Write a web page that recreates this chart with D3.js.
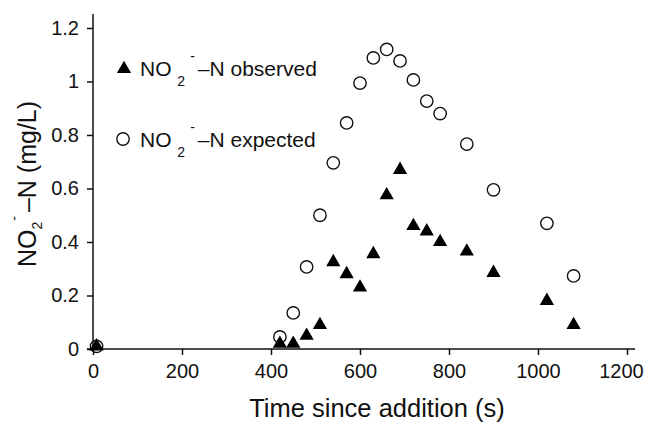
<!DOCTYPE html>
<html>
<head>
<meta charset="utf-8">
<script src="https://cdn.jsdelivr.net/npm/d3@7"></script>
<style>
  body { margin: 0; background: #fff; }
  text { font-family: "Liberation Sans", Arial, sans-serif; fill: #111; }
</style>
</head>
<body>
<svg id="chart" width="647" height="423"></svg>
<script>
// Data
const times = [8, 420, 450, 480, 510, 540, 570, 600, 630, 660, 690, 720, 750, 780, 840, 900, 1020, 1080];
const observed = [0.01, 0.02, 0.02, 0.05, 0.09, 0.325, 0.28, 0.23, 0.355, 0.575, 0.67, 0.46, 0.44, 0.40, 0.365, 0.285, 0.18, 0.09];
const expected = [0.01, 0.045, 0.135, 0.307, 0.50, 0.696, 0.845, 0.994, 1.088, 1.12, 1.077, 1.006, 0.927, 0.88, 0.766, 0.595, 0.47, 0.273];
const xTicks = [0, 200, 400, 600, 800, 1000, 1200];
const yTicks = [0, 0.2, 0.4, 0.6, 0.8, 1, 1.2];

const svg = d3.select('#chart');

// Scales (plot area runs from x=93 to 627, y=349 to 28)
const xScale = d3.scaleLinear().domain([0, 1200]).range([93, 627]);
const yScale = d3.scaleLinear().domain([0, 1.2]).range([349, 28]);

// Axes
const xAxis = svg.append('g')
  .attr('transform', `translate(0,${yScale(0)})`)
  .call(d3.axisBottom(xScale).tickValues(xTicks).tickSize(6).tickPadding(9).tickSizeOuter(0)
    .tickFormat(d3.format('d')));
xAxis.select('.domain').attr('d', `M${xScale(0) - 6},0H635`);
// last label sits a little left of its tick so it stays inside the picture
xAxis.selectAll('.tick text').filter(d => d === 1200).attr('dx', -6);

const yAxis = svg.append('g')
  .attr('transform', `translate(${xScale(0)},0)`)
  .call(d3.axisLeft(yScale).tickValues(yTicks).tickSize(6).tickPadding(8).tickSizeOuter(0)
    .tickFormat(d3.format('~g')));
yAxis.select('.domain').attr('d', `M0,14V${yScale(0)}`);

svg.selectAll('.tick text')
  .style('font-size', '20px')
  .style('font-family', '"Liberation Sans", Arial, sans-serif')
  .attr('fill', '#111');
svg.selectAll('.domain, .tick line').attr('stroke', '#111').attr('stroke-width', 1.5);

// Markers
const triangle = d3.symbol().type(d3.symbolTriangle).size(88);
const pts = times.map((t, i) => ({ t, o: observed[i], e: expected[i] }));

svg.append('g').selectAll('circle')
  .data(pts)
  .join('circle')
  .attr('cx', d => xScale(d.t))
  .attr('cy', d => yScale(d.e))
  .attr('r', 6.2)
  .attr('fill', 'none')
  .attr('stroke', '#111')
  .attr('stroke-width', 1.4);

svg.append('g').selectAll('path')
  .data(pts)
  .join('path')
  .attr('d', triangle)
  .attr('transform', d => `translate(${xScale(d.t)},${yScale(d.o)})`)
  .attr('fill', '#000');

// Legend
function no2Label(sel, rest) {
  sel.append('tspan').text('NO ');
  sel.append('tspan').attr('dy', 10).style('font-size', '14px').text('2');
  sel.append('tspan').attr('dy', -25).attr('dx', 5).style('font-size', '14px').text('-');
  sel.append('tspan').attr('dy', 15).attr('dx', 3).text('–N ' + rest);
}

const legend = svg.append('g');
legend.append('path')
  .attr('d', triangle)
  .attr('transform', 'translate(124,69)')
  .attr('fill', '#000');
legend.append('text')
  .attr('x', 140).attr('y', 76)
  .style('font-size', '21px')
  .call(no2Label, 'observed');

legend.append('circle')
  .attr('cx', 123).attr('cy', 139).attr('r', 6.2)
  .attr('fill', 'none').attr('stroke', '#111').attr('stroke-width', 1.4);
legend.append('text')
  .attr('x', 140).attr('y', 147)
  .style('font-size', '21px')
  .call(no2Label, 'expected');

// Axis titles
svg.append('text')
  .attr('x', 377).attr('y', 417)
  .attr('text-anchor', 'middle')
  .style('font-size', '25.5px')
  .text('Time since addition (s)');

const yTitle = svg.append('text')
  .attr('transform', 'translate(36,184) rotate(-90)')
  .attr('text-anchor', 'middle')
  .style('font-size', '25px');
yTitle.append('tspan').text('NO');
yTitle.append('tspan').attr('dy', 6).style('font-size', '14px').text('2');
yTitle.append('tspan').attr('dy', -23).attr('dx', 1).style('font-size', '14px').text('-');
yTitle.append('tspan').attr('dy', 17).attr('dx', 4).text('–N (mg/L)');
</script>
</body>
</html>
